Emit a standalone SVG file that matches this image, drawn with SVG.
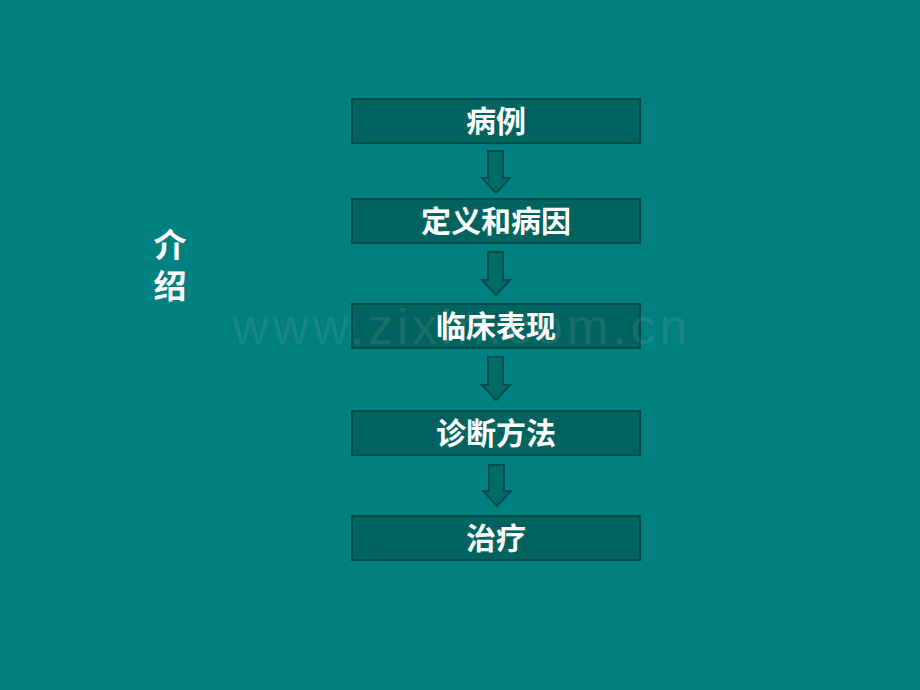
<svg xmlns="http://www.w3.org/2000/svg" width="920" height="690" viewBox="0 0 920 690">
<style>
.box{fill:#00635f;stroke:#004d4a;stroke-width:2}
.lbl{font-family:"Noto Sans CJK SC","Noto Sans CJK JP",sans-serif;font-weight:bold;font-size:30px;fill:#ffffff;text-anchor:middle}
.arr{fill:#006b67;stroke:#004f4b;stroke-width:2;stroke-linejoin:miter}
.side{font-family:"Noto Sans CJK SC",sans-serif;font-weight:bold;font-size:33px;fill:#ffffff;text-anchor:middle}
</style>
<rect width="920" height="690" fill="#008080"/>
<g id="side-label">
<text class="side" x="170" y="257">介<tspan x="170" dy="41">绍</tspan></text>
</g>
<g id="connectors">
<path class="arr" d="M488,151 H503 V178 H510 L496,193 L482,178 H488 Z"/>
<path class="arr" d="M488,252 H503 V280 H510 L496,295 L482,280 H488 Z"/>
<path class="arr" d="M488,357 H503 V385 H510 L496,400 L482,385 H488 Z"/>
<path class="arr" d="M489,465 H504 V491 H511 L497,506 L483,491 H489 Z"/>
</g>
<g id="node1"><rect class="box" x="352" y="99" width="288" height="44"/><text class="lbl" x="496" y="132">病例</text></g>
<g id="node2"><rect class="box" x="352" y="199" width="288" height="44"/><text class="lbl" x="496" y="232">定义和病因</text></g>
<g id="node3"><rect class="box" x="352" y="304" width="288" height="44"/><text class="lbl" x="496" y="337">临床表现</text></g>
<g id="node4"><rect class="box" x="352" y="411" width="288" height="44"/><text class="lbl" x="496" y="444">诊断方法</text></g>
<g id="node5"><rect class="box" x="352" y="516" width="288" height="44"/><text class="lbl" x="496" y="549">治疗</text></g>
<text x="460" y="344" font-family="Liberation Sans, Arial, sans-serif" font-size="50" fill="#b4b4b4" fill-opacity="0.14" text-anchor="middle" textLength="455" lengthAdjust="spacing">www.zixin.com.cn</text>
</svg>
